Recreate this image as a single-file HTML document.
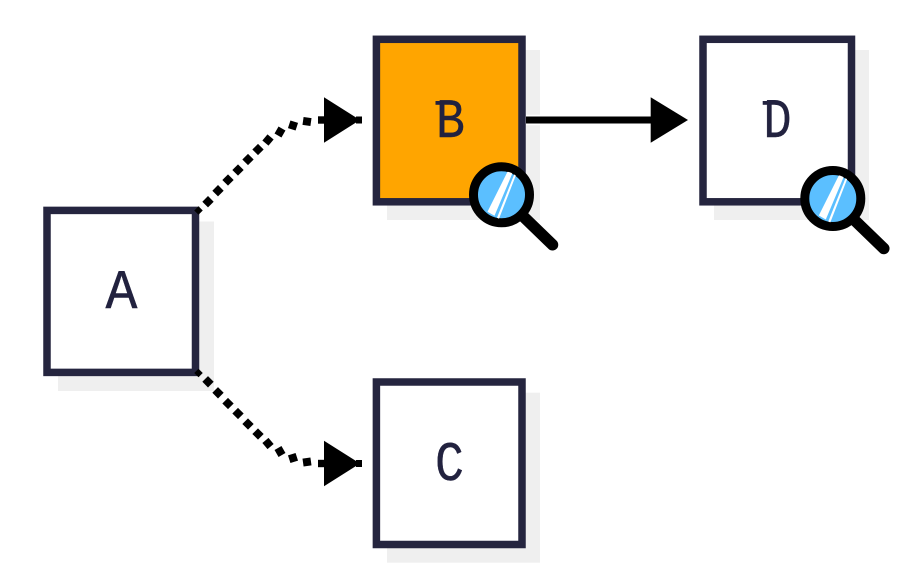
<!DOCTYPE html>
<html><head><meta charset="utf-8"><style>
html,body{margin:0;padding:0;background:#fff}
svg{display:block}
text{font-family:"Liberation Mono",monospace;font-size:56px;fill:#22223f;stroke:#22223f;stroke-width:.4px;text-anchor:middle}
</style></head><body>
<svg width="900" height="585" viewBox="0 0 900 585" xmlns="http://www.w3.org/2000/svg">
<defs>
<clipPath id="l1"><circle cx="0" cy="0" r="24"/></clipPath>
<g id="dots" fill="#000">
<rect x="-3" y="-3" width="6" height="6" transform="translate(198.500 210.500) rotate(45)"/>
<rect x="-4" y="-4" width="8" height="8" transform="translate(208 201.700) rotate(45)"/>
<rect x="-4" y="-4" width="8" height="8" transform="translate(218 190.700) rotate(45)"/>
<rect x="-4" y="-4" width="8" height="8" transform="translate(228 180) rotate(45)"/>
<rect x="-4" y="-4" width="8" height="8" transform="translate(238 170) rotate(45)"/>
<rect x="-4" y="-4" width="8" height="8" transform="translate(248 159.500) rotate(45)"/>
<rect x="-4" y="-4" width="8" height="8" transform="translate(258 149.500) rotate(45)"/>
<rect x="-4" y="-4" width="8" height="8" transform="translate(268 140) rotate(40)"/>
<rect x="-4" y="-4" width="8" height="8" transform="translate(280 132) rotate(30)"/>
<rect x="-4" y="-4" width="8" height="8" transform="translate(293 125.500) rotate(18)"/>
<rect x="-4" y="-4" width="8" height="8" transform="translate(307 121.500) rotate(8)"/>
<rect x="318" y="116.300" width="8" height="7.400"/>
<rect x="356" y="116.500" width="6" height="7"/>
<polygon points="324,97.300 360,120 324,142.700"/>
</g>
<g id="mag">
<line x1="20" y1="20" x2="51" y2="50" stroke="#000" stroke-width="11.500" stroke-linecap="round"/>
<circle cx="0" cy="0" r="28" fill="#5bbfff" stroke="#000" stroke-width="9"/>
<g clip-path="url(#l1)" fill="#fff">
<polygon points="6,-23 11.500,-23 -7,21 -14,17"/>
<polygon points="13,-21 15,-21 -2.500,24 -4.500,23"/>
</g>
</g>
</defs>
<!-- shadows -->
<g fill="#efefef">
<rect x="58" y="221.500" width="156" height="169.500"/>
<rect x="387" y="50" width="153" height="170"/>
<rect x="387" y="392.700" width="153" height="170"/>
<rect x="714" y="50" width="155" height="170"/>
</g>
<!-- boxes -->
<g stroke="#25253f" stroke-width="7.500" fill="#fff">
<rect x="47" y="210.400" width="148.500" height="162"/>
<rect x="376.400" y="39.300" width="145.600" height="162.500" fill="#ffa500"/>
<rect x="376.400" y="382" width="145.600" height="162.500"/>
<rect x="703" y="39.300" width="148.500" height="162.500"/>
</g>
<text transform="translate(121.500 308) scale(.95 1)" x="0" y="0">A</text>
<text transform="translate(450.500 137) scale(.86 1)" x="0" y="0">B</text>
<rect x="435.500" y="101" width="7" height="3.800" fill="#22223f"/>
<text transform="translate(449.500 480) scale(.86 1)" x="0" y="0">C</text>
<text transform="translate(777.500 137) scale(.84 1)" x="0" y="0">D</text>
<rect x="762.700" y="101" width="7" height="3.800" fill="#22223f"/>
<!-- solid connector -->
<line x1="526" y1="120" x2="655" y2="120" stroke="#fff" stroke-width="10.500"/>
<line x1="526" y1="120" x2="655" y2="120" stroke="#000" stroke-width="7"/>
<polygon points="650.700,97.300 688,120 650.700,142.700" fill="#000"/>
<!-- dotted connectors -->
<use href="#dots"/>
<use href="#dots" transform="translate(0,583.500) scale(1,-1)"/>
<!-- magnifiers -->
<use href="#mag" transform="translate(501.500 194.800)"/>
<use href="#mag" transform="translate(832.800 198.500)"/>
</svg>
</body></html>
